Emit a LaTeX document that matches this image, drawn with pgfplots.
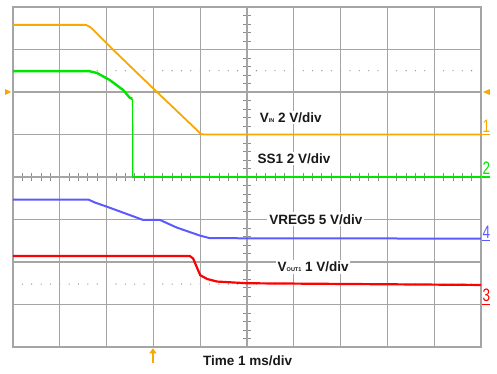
\documentclass[border=0pt]{standalone}
\usepackage{pgfplots}
\pgfplotsset{compat=1.18}
\usepackage{fontspec}
\setmainfont{Liberation Sans}
\usetikzlibrary{arrows.meta}
\definecolor{cOr}{RGB}{248,168,0}
\definecolor{cGr}{RGB}{0,228,0}
\definecolor{cBl}{RGB}{90,90,255}
\definecolor{cRd}{RGB}{255,0,0}
\definecolor{cGrid}{RGB}{165,165,165}
\definecolor{cTick}{RGB}{140,140,140}
\definecolor{cTxt}{RGB}{25,25,25}
\newcommand{\lab}{\bfseries\fontsize{13.5}{14}\selectfont}
\newcommand{\sub}[1]{{\fontsize{5.5}{6}\selectfont #1}}
\newcommand{\chn}{\fontsize{18}{18}\selectfont}
\begin{document}
\begin{tikzpicture}
\path[use as bounding box] (0pt,0pt) rectangle (497pt,373pt);
% background furniture: center-axis minor ticks and dotted level lines
\begin{scope}[shift={(13pt,26pt)},x=46.8pt,y=42.5pt]
  \foreach \i in {1,...,49} {\draw[cTick, line width=0.8pt] (\i*0.2,4-0.09) -- (\i*0.2,4+0.09);}
  \foreach \i in {1,...,39} {\draw[cTick, line width=0.8pt] (5-0.085,\i*0.2) -- (5+0.085,\i*0.2);}
  \foreach \i in {1,...,49} {\fill[cTick] (\i*0.2,6.5) circle[radius=0.65pt];}
  \foreach \i in {1,...,49} {\fill[cTick] (\i*0.2,1.48) circle[radius=0.65pt];}
\end{scope}
\begin{axis}[
  at={(13pt,26pt)}, anchor=south west,
  scale only axis, width=468pt, height=340pt,
  xmin=0, xmax=10, ymin=0, ymax=8,
  xtick={1,...,9}, ytick={1,...,7},
  xticklabels={}, yticklabels={},
  major tick length=0pt,
  grid=major, grid style={cGrid, line width=1.1pt},
  axis line style={cGrid, line width=1.1pt},
  clip=false,
]
% V_IN (orange)
\addplot[cOr, line width=1.8pt] coordinates {
 (0,7.58) (1.56,7.58) (1.66,7.52) (2.2,6.93) (3.0,6.08) (4.02,5.01) (4.1,5.0) (10,5.0)};
% SS1 (green)
\addplot[cGr, line width=2.4pt] coordinates {
 (0,6.49) (1.63,6.49) (1.79,6.45) (2.07,6.28) (2.35,6.05) (2.50,5.86) (2.55,5.84)};
\addplot[cGr, line width=1.2pt] coordinates {(2.555,5.84) (2.56,4.0)};
\addplot[cGr, line width=2.4pt] coordinates {(2.54,4.0) (10,4.0)};
% VREG5 (blue)
\addplot[cBl, line width=2pt] coordinates {
 (0,3.47) (1.61,3.47) (1.75,3.40) (2.01,3.30) (2.78,2.99) (3.14,2.99) (3.5,2.81) (4.0,2.62) (4.21,2.56) (10,2.55)};
% VOUT1 (red)
\addplot[cRd, line width=2.2pt] coordinates {
 (0,2.14) (3.78,2.14) (3.85,2.08) (4.0,1.69) (4.15,1.60) (4.36,1.54) (5,1.50) (10,1.46)};
\end{axis}
% foreground annotations
\begin{scope}[shift={(13pt,26pt)},x=46.8pt,y=42.5pt]
  \node[anchor=base west, fill=white, inner sep=1.5pt, text=cTxt, font=\lab] at (5.24,5.28) {V\sub{IN} 2 V/div};
  \node[anchor=base west, fill=white, inner sep=1.5pt, text=cTxt, font=\lab] at (5.19,4.32) {SS1 2 V/div};
  \node[anchor=base west, fill=white, inner sep=2pt, text=cTxt, font=\lab] at (5.43,2.89) {VREG5 5 V/div};
  \node[anchor=base west, fill=white, inner sep=1.5pt, text=cTxt, font=\lab] at (5.62,1.77) {V\sub{OUT1} 1 V/div};
  \node[anchor=base west, inner sep=0pt, text=cTxt, font=\lab] at (4.06,-0.43) {Time 1 ms/div};
  % channel markers
  \node[anchor=base west, inner sep=0pt, text=cOr, xscale=0.75, font=\chn] at (10.03,5.04) {1};
  \draw[cOr, line width=1.2pt] (10.02,5.0) -- (10.19,5.0);
  \node[anchor=base west, inner sep=0pt, text=cGr, xscale=0.75, font=\chn] at (10.03,4.06) {2};
  \draw[cGr, line width=1.2pt] (10.02,4.0) -- (10.19,4.0);
  \node[anchor=base west, inner sep=0pt, text=cBl, xscale=0.75, font=\chn] at (10.03,2.56) {4};
  \draw[cBl, line width=1.2pt] (10.02,2.5) -- (10.19,2.5);
  \node[anchor=base west, inner sep=0pt, text=cRd, xscale=0.75, font=\chn] at (10.03,1.06) {3};
  \draw[cRd, line width=1.2pt] (10.02,1.0) -- (10.19,1.0);
  % trigger markers
  \fill[cOr] (-0.17,6.07) -- (-0.04,6.0) -- (-0.17,5.93) -- cycle;
  \fill[cOr] (10.19,6.07) -- (10.04,6.0) -- (10.19,5.93) -- cycle;
  \draw[cOr, line width=2.2pt, -{Triangle[width=7pt,length=5pt]}] (2.99,-0.38) -- (2.99,-0.03);
\end{scope}
\end{tikzpicture}
\end{document}
